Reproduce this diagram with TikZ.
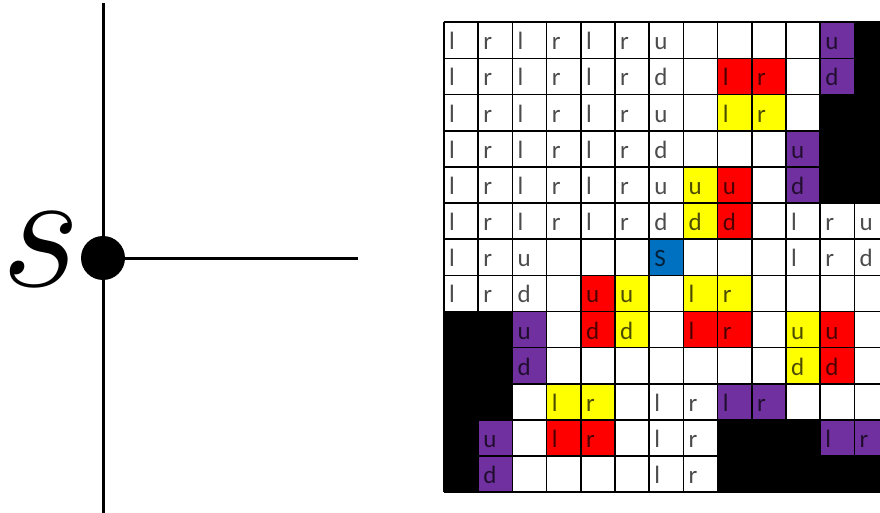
\documentclass[tikz,border=0pt]{standalone}
\usepackage{fontspec}
\usetikzlibrary{positioning}
\newfontfamily\cellfont{Carlito}
\definecolor{cellred}{HTML}{FF0000}
\definecolor{cellyellow}{HTML}{FFFF00}
\definecolor{cellpurple}{HTML}{7030A0}
\definecolor{cellblue}{HTML}{0070C0}
\def\gridx{444}
\def\gridy{22.3}
\def\cellw{34.2}
\def\cellh{36.15}

\begin{document}
\begin{tikzpicture}[
    x=1pt, y=-1pt,
    vertex/.style={circle, fill=black, inner sep=0pt, minimum size=44pt},
    edgeline/.style={line width=3pt, black},
    gridline/.style={line width=1.6pt, black},
    letter/.style={anchor=base west, inner sep=0pt,
                   font=\cellfont\fontsize{25}{25}\selectfont,
                   text=black, text opacity=0.7}
]
    \useasboundingbox (0,0) rectangle (880,513);
    \clip (0,0) rectangle (880,513);

    % Left: the vertex s
    \node[vertex] (s) at (103,258) {};
    \coordinate (top) at (103,3);
    \coordinate (bottom) at (103,513);
    \coordinate (right) at (358,258);
    \draw[edgeline] (top) -- (s);
    \draw[edgeline] (s) -- (bottom);
    \draw[edgeline] (s) -- (right);
    \node[font=\Huge, scale=6.9, inner sep=0pt] (slabel) at (41,250) {$s$};

    % Cell fills
    \foreach \cc/\rr/\clr in {
        12/1/cellpurple, 12/2/cellpurple, 11/4/cellpurple, 11/5/cellpurple,
        3/9/cellpurple, 3/10/cellpurple, 9/11/cellpurple, 10/11/cellpurple,
        2/12/cellpurple, 2/13/cellpurple, 12/12/cellpurple, 13/12/cellpurple,
        9/2/cellred, 10/2/cellred, 9/5/cellred, 9/6/cellred, 5/8/cellred, 5/9/cellred,
        8/9/cellred, 9/9/cellred, 12/9/cellred, 12/10/cellred, 4/12/cellred, 5/12/cellred,
        9/3/cellyellow, 10/3/cellyellow, 8/5/cellyellow, 8/6/cellyellow,
        6/8/cellyellow, 6/9/cellyellow, 8/8/cellyellow, 9/8/cellyellow,
        11/9/cellyellow, 11/10/cellyellow, 4/11/cellyellow, 5/11/cellyellow,
        7/7/cellblue,
        13/1/black, 13/2/black, 12/3/black, 13/3/black, 12/4/black, 13/4/black,
        12/5/black, 13/5/black, 1/9/black, 2/9/black, 1/10/black, 2/10/black,
        1/11/black, 2/11/black, 1/12/black, 1/13/black, 9/12/black, 10/12/black,
        11/12/black, 9/13/black, 10/13/black, 11/13/black, 12/13/black, 13/13/black}
        \fill[\clr] ({\gridx+(\cc-1)*\cellw},{\gridy+(\rr-1)*\cellh}) rectangle ++(\cellw,\cellh);

    % Grid
    \foreach \i in {0,...,13} {
        \draw[gridline] ({\gridx+\i*\cellw},\gridy) -- ++(0,{13*\cellh});
        \draw[gridline] (\gridx,{\gridy+\i*\cellh}) -- ++({13*\cellw},0);
    }

    % Letters
    \foreach \rr in {1,...,6}
        \foreach \cc in {1,3,5} {
            \node[letter] (c\cc-\rr) at ({\gridx+(\cc-1)*\cellw+5},{\gridy+(\rr-1)*\cellh+27.5}) {l};
            \node[letter] (d\cc-\rr) at ({\gridx+\cc*\cellw+5},{\gridy+(\rr-1)*\cellh+27.5}) {r};
        }
    \foreach \cc/\rr/\ltr in {
        7/1/u, 7/2/d, 7/3/u, 7/4/d, 7/5/u, 7/6/d,
        1/7/l, 2/7/r, 3/7/u, 7/7/S, 1/8/l, 2/8/r, 3/8/d,
        12/1/u, 9/2/l, 10/2/r, 12/2/d, 9/3/l, 10/3/r, 11/4/u,
        8/5/u, 9/5/u, 11/5/d, 8/6/d, 9/6/d, 11/6/l, 12/6/r, 13/6/u,
        11/7/l, 12/7/r, 13/7/d, 5/8/u, 6/8/u, 8/8/l, 9/8/r,
        3/9/u, 5/9/d, 6/9/d, 8/9/l, 9/9/r, 11/9/u, 12/9/u,
        3/10/d, 11/10/d, 12/10/d,
        4/11/l, 5/11/r, 7/11/l, 8/11/r, 9/11/l, 10/11/r,
        2/12/u, 4/12/l, 5/12/r, 7/12/l, 8/12/r, 12/12/l, 13/12/r,
        2/13/d, 7/13/l, 8/13/r}
        \node[letter] (c\cc-\rr) at ({\gridx+(\cc-1)*\cellw+5},{\gridy+(\rr-1)*\cellh+27.5}) {\ltr};
\end{tikzpicture}
\end{document}
